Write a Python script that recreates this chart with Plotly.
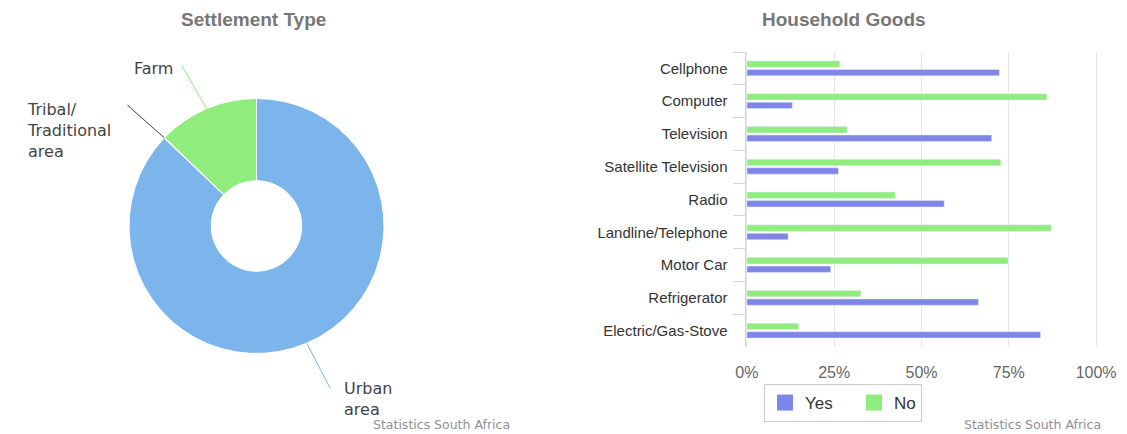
import math
import plotly.graph_objects as go

W, H = 1127, 434
OFF = 8  # page body margin shifts the figure by 8px

# ---- data ----
settlement_labels = ["Urban area", "Tribal/ Traditional area", "Farm"]
settlement_values = [87.1, 0.1, 12.8]
settlement_colors = ["#7cb5ec", "#434348", "#90ed7d"]

goods = ["Cellphone", "Computer", "Television", "Satellite Television", "Radio",
         "Landline/Telephone", "Motor Car", "Refrigerator", "Electric/Gas-Stove"]
goods_yes = [72.3, 13.0, 70.1, 26.2, 56.5, 11.8, 24.0, 66.3, 84.1]
goods_no = [26.6, 85.9, 28.7, 72.7, 42.5, 87.1, 74.8, 32.6, 14.8]
x_ticks = [0, 25, 50, 75, 100]
x_tick_labels = ["0%", "25%", "50%", "75%", "100%"]


def px_x(p):
    return (p - OFF) / W


def px_y(p):
    return 1 - (p - OFF) / H


fig = go.Figure()

# ---- pie ----
pie_cx, pie_cy, pie_r = 256.5, 226, 127.5
fig.add_trace(go.Pie(
    labels=settlement_labels, values=settlement_values,
    marker=dict(colors=settlement_colors, line=dict(color="white", width=1)),
    hole=0.355, sort=False, direction="clockwise", rotation=0,
    textinfo="none", hoverinfo="label+percent", showlegend=False,
    domain=dict(x=[px_x(pie_cx - pie_r), px_x(pie_cx + pie_r)],
                y=[px_y(pie_cy + pie_r), px_y(pie_cy - pie_r)]),
))

# ---- bars ----
fig.add_trace(go.Bar(y=goods, x=goods_no, name="No", orientation="h",
                     marker=dict(color="#90ed7d"), showlegend=False,
                     xaxis="x", yaxis="y"))
fig.add_trace(go.Bar(y=goods, x=goods_yes, name="Yes", orientation="h",
                     marker=dict(color="#8085e9"), showlegend=False,
                     xaxis="x", yaxis="y"))
# legend entries (square swatches like the reference)
fig.add_trace(go.Scatter(x=[None], y=[None], mode="markers", name="Yes", legendwidth=44,
                         marker=dict(symbol="square", size=18, color="#8085e9"),
                         xaxis="x", yaxis="y"))
fig.add_trace(go.Scatter(x=[None], y=[None], mode="markers", name="No",
                         marker=dict(symbol="square", size=18, color="#90ed7d"),
                         xaxis="x", yaxis="y"))

# ---- pie labels with leader lines ----
total = sum(settlement_values)
leader_tails = {  # where each leader line ends (reference pixels)
    "Urban area": (331, 390),
    "Tribal/ Traditional area": (126, 104),
    "Farm": (181, 64),
}
label_specs = {  # text, x, y, xanchor
    "Urban area": ("Urban<br>area", 342, 399, "left"),
    "Tribal/ Traditional area": ("Tribal/<br>Traditional<br>area", 25, 130, "left"),
    "Farm": ("Farm", 175, 68, "right"),
}
label_font = dict(family="DejaVu Sans", size=16, color="#444444")
cum = 0
annotations = []
for lab, val, col in zip(settlement_labels, settlement_values, settlement_colors):
    mid = (cum + val / 2) / total * 2 * math.pi
    cum += val
    hx = pie_cx + pie_r * math.sin(mid)
    hy = pie_cy - pie_r * math.cos(mid)
    tx, ty = leader_tails[lab]
    annotations.append(dict(
        x=px_x(hx), y=px_y(hy), xref="paper", yref="paper",
        ax=tx - hx, ay=ty - hy, axref="pixel", ayref="pixel",
        text="", showarrow=True, arrowhead=0, arrowwidth=1, arrowcolor=col,
        standoff=0, startstandoff=0,
    ))
    txt, lx, ly, xa = label_specs[lab]
    annotations.append(dict(
        x=px_x(lx), y=px_y(ly), xref="paper", yref="paper", xanchor=xa, yanchor="middle",
        text=txt, showarrow=False, align="left", font=label_font,
    ))

# titles and credits
title_font = dict(family="Liberation Sans", size=19, color="#777777")
credit_font = dict(family="DejaVu Sans", size=12.5, color="#909090")
annotations += [
    dict(text="<b>Settlement Type</b>", x=px_x(253), y=1, xref="paper", yref="paper",
         xanchor="center", yanchor="top", borderpad=0, showarrow=False, font=title_font),
    dict(text="<b>Household Goods</b>", x=px_x(844), y=1, xref="paper", yref="paper",
         xanchor="center", yanchor="top", borderpad=0, showarrow=False, font=title_font),
    dict(text="Statistics South Africa", x=px_x(441), y=px_y(424), xref="paper", yref="paper",
         xanchor="center", yanchor="middle", showarrow=False, font=credit_font),
    dict(text="Statistics South Africa", x=px_x(1032), y=px_y(424), xref="paper", yref="paper",
         xanchor="center", yanchor="middle", showarrow=False, font=credit_font),
]

fig.update_layout(
    width=W, height=H,
    margin=dict(l=0, r=0, t=0, b=0),
    paper_bgcolor="white", plot_bgcolor="white",
    barmode="group", bargap=0.48, bargroupgap=0.25,
    font=dict(family="Liberation Sans", color="#333333"),
    xaxis=dict(domain=[px_x(745.5), px_x(1097.5)], range=[-0.4, 100.4],
               tickvals=x_ticks, ticktext=x_tick_labels,
               showgrid=True, gridcolor="#e6e6e6", gridwidth=1, zeroline=False,
               showline=False, ticks="", ticklabelstandoff=14,
               tickfont=dict(family="Liberation Sans", size=16, color="#666666"),
               anchor="y", fixedrange=True, automargin=False),
    yaxis=dict(domain=[px_y(347), px_y(52)], autorange="reversed",
               showline=True, linecolor="#ccd6eb", linewidth=1,
               ticks="outside", tickson="boundaries", ticklen=12, tickcolor="#ccd6eb",
               ticklabelstandoff=14,
               tickfont=dict(family="Liberation Sans", size=15, color="#333333"),
               showgrid=False, anchor="x", fixedrange=True, automargin=False),
    legend=dict(orientation="h", x=px_x(764), xanchor="left", y=px_y(384), yanchor="top",
                bordercolor="#cccccc", borderwidth=1, bgcolor="white",
                itemsizing="trace", tracegroupgap=0,
                font=dict(family="Liberation Sans", size=17, color="#333333")),
    annotations=annotations,
)

fig.write_html("out.html")
